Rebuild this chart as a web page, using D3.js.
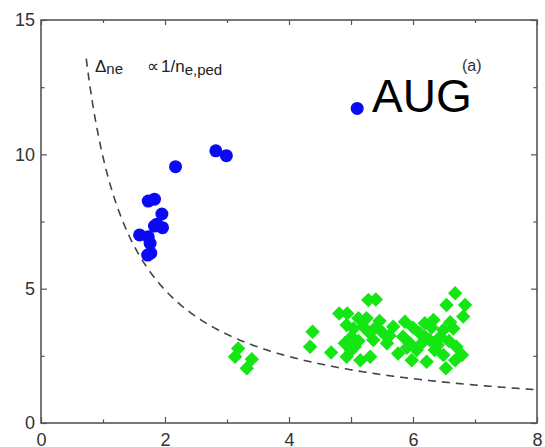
<!DOCTYPE html>
<html>
<head>
<meta charset="utf-8">
<script src="https://cdn.jsdelivr.net/npm/d3@7"></script>
<style>
  body { margin: 0; background: #fff; }
  text { font-family: 'Liberation Sans', Arial, sans-serif; }
</style>
</head>
<body>
<div id="chart"></div>
<script>
// blue circles: [n_e,ped, width]
const bluePoints = [
  [5.10, 11.71], [2.82, 10.13], [2.99, 9.95], [2.17, 9.54],
  [1.73, 8.26], [1.83, 8.33], [1.95, 7.78], [1.83, 7.33], [1.96, 7.27],
  [1.87, 7.40], [1.59, 7.00], [1.73, 6.93], [1.76, 6.69], [1.77, 6.32], [1.72, 6.25]
]

// green diamonds
const greenPoints = [
  [3.18, 2.77], [3.13, 2.47], [3.40, 2.37], [3.32, 2.04],
  [4.38, 3.40], [4.34, 2.84], [4.68, 2.62], [4.81, 4.08], [4.94, 4.08], [4.93, 3.65],
  [5.28, 4.58], [5.40, 4.60], [5.12, 3.90], [5.25, 3.90], [5.01, 3.21], [4.90, 2.97],
  [5.06, 2.84], [4.93, 2.47], [5.15, 2.34], [5.31, 2.47], [5.41, 3.58], [5.52, 3.34],
  [5.36, 3.09], [5.58, 2.97], [5.68, 3.58], [5.84, 3.21], [5.87, 3.77], [5.76, 2.59],
  [5.98, 2.34], [5.95, 2.97], [6.11, 3.34], [6.19, 3.71], [6.33, 3.83], [6.22, 2.28],
  [6.35, 2.72], [6.27, 3.09], [6.44, 3.21], [6.49, 2.53], [6.53, 2.04], [6.54, 4.39],
  [6.68, 4.83], [6.84, 4.39], [6.81, 3.96], [6.65, 3.52], [6.70, 2.84], [6.79, 2.53],
  [6.68, 2.34], [6.49, 3.46], [6.06, 2.72], [6.14, 2.97], [5.04, 3.52], [5.20, 3.58],
  [5.30, 3.35], [5.46, 3.80], [5.62, 3.25], [5.12, 3.05], [5.00, 2.70], [6.00, 3.55],
  [6.30, 3.55], [6.40, 2.90], [6.20, 3.20], [6.58, 3.05], [6.60, 3.75], [5.90, 2.80]
]

// scaling curve  width = k / n
const fitK = 9.9
const fitRange = [0.73, 8]

const xTicks = [0, 2, 4, 6, 8]
const yTicks = [0, 5, 10, 15]

const margin = { top: 20, left: 41, right: 8, bottom: 24 }
const width = 545 - margin.left - margin.right
const height = 447 - margin.top - margin.bottom

const svg = d3
  .select('#chart')
  .append('svg')
  .attr('width', 545)
  .attr('height', 447)
  .append('g')
  .attr('transform', 'translate(' + margin.left + ',' + margin.top + ')')

const xPositionScale = d3.scaleLinear().domain([0, 8]).range([0, width])
const yPositionScale = d3.scaleLinear().domain([0, 15]).range([height, 0])

// dashed 1/n curve
const fitData = d3.range(fitRange[0], fitRange[1] + 0.001, 0.02).map(n => [n, fitK / n])
const line = d3
  .line()
  .x(d => xPositionScale(d[0]))
  .y(d => yPositionScale(d[1]))

svg
  .append('path')
  .datum(fitData)
  .attr('d', line)
  .attr('fill', 'none')
  .attr('stroke', '#444')
  .attr('stroke-width', 1.6)
  .attr('stroke-dasharray', '8,6')

svg
  .selectAll('.green')
  .data(greenPoints)
  .enter()
  .append('path')
  .attr('class', 'green')
  .attr('d', d3.symbol(d3.symbolSquare, 105))
  .attr('transform', d => 'translate(' + xPositionScale(d[0]) + ',' + yPositionScale(d[1]) + ') rotate(45)')
  .attr('fill', '#14e614')

svg
  .selectAll('.blue')
  .data(bluePoints)
  .enter()
  .append('circle')
  .attr('class', 'blue')
  .attr('r', 6.5)
  .attr('cx', d => xPositionScale(d[0]))
  .attr('cy', d => yPositionScale(d[1]))
  .attr('fill', '#0a0af5')

// axes, ticks pointing inward
const axisColor = '#555'
function styleAxis(g) {
  g.select('.domain').remove()
  g.selectAll('line').attr('stroke', axisColor).attr('stroke-width', 1.2)
  g.selectAll('text').attr('fill', '#333').attr('font-size', 18)
}

svg
  .append('g')
  .attr('transform', 'translate(0,' + height + ')')
  .call(d3.axisBottom(xPositionScale).ticks(8).tickSize(-6).tickPadding(6).tickFormat(d => (xTicks.includes(d) ? d : '')))
  .call(styleAxis)
  .call(g => g.selectAll('text').attr('dy', '0.95em'))
svg
  .append('g')
  .call(d3.axisTop(xPositionScale).ticks(8).tickSize(-5).tickFormat(''))
  .call(styleAxis)
svg
  .append('g')
  .call(d3.axisLeft(yPositionScale).tickValues(d3.range(0, 15.1, 2.5)).tickSize(-6).tickPadding(6)
    .tickFormat(d => (yTicks.includes(d) ? d : '')))
  .call(styleAxis)
svg
  .append('g')
  .attr('transform', 'translate(' + width + ',0)')
  .call(d3.axisRight(yPositionScale).tickValues(d3.range(0, 15.1, 2.5)).tickSize(-6).tickFormat(''))
  .call(styleAxis)

// minor ticks shorter
svg.selectAll('.tick').filter(d => d % 2 !== 0 && d % 5 !== 0).selectAll('line').each(function() {
  const l = d3.select(this)
  if (l.attr('y2') !== null && +l.attr('y2') !== 0) l.attr('y2', +l.attr('y2') * 0.6)
  if (l.attr('x2') !== null && +l.attr('x2') !== 0) l.attr('x2', +l.attr('x2') * 0.6)
})

svg
  .append('rect')
  .attr('width', width)
  .attr('height', height)
  .attr('fill', 'none')
  .attr('stroke', axisColor)
  .attr('stroke-width', 1.6)

// annotations
const labelY = 72 - margin.top
const label = svg
  .append('text')
  .attr('y', labelY)
  .attr('font-size', 17)
  .attr('fill', '#222')
label.append('tspan').attr('x', 95 - margin.left).text('Δ')
label.append('tspan').text('ne').attr('font-size', 15).attr('dy', 2)
label.append('tspan').attr('x', 147 - margin.left).attr('y', labelY).text('∝')
label.append('tspan').text('1/n').attr('dx', 2)
label.append('tspan').text('e,ped').attr('font-size', 15).attr('dy', 3)

svg
  .append('text')
  .attr('x', 372 - margin.left)
  .attr('y', 112 - margin.top)
  .attr('font-size', 46)
  .attr('fill', '#000')
  .text('AUG')
svg
  .append('text')
  .attr('x', 462 - margin.left)
  .attr('y', 71 - margin.top)
  .attr('font-size', 16)
  .attr('fill', '#333')
  .text('(a)')
</script>
</body>
</html>
